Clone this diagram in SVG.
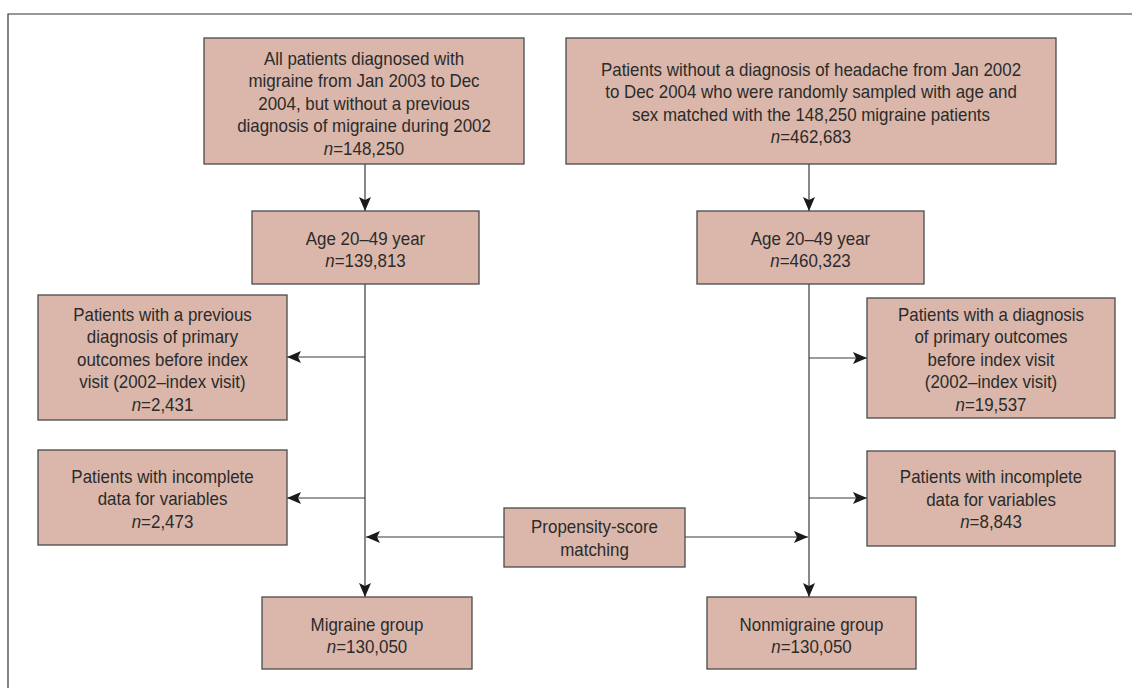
<svg xmlns="http://www.w3.org/2000/svg" width="1132" height="688" viewBox="0 0 1132 688">
<style>
.box{fill:#dab7aa;stroke:#4a4a4a;stroke-width:1.3}
.t{font-family:"Liberation Sans",Arial,sans-serif;font-size:18px;fill:#2b2b2b;text-anchor:middle}
.i{font-style:italic}
.c{stroke:#3a3a3a;stroke-width:1.2;fill:none}
.frame{stroke:#333;stroke-width:1.2;fill:none}
</style>
<defs>
<marker id="ah" viewBox="0 0 14 12" refX="14" refY="6" markerWidth="14" markerHeight="12" orient="auto" markerUnits="userSpaceOnUse">
<path d="M0,0 L14,6 L0,12 L3,6 z" fill="#1a1a1a"/>
</marker>
</defs>
<path class="frame" d="M8,688 V14 H1132"/>
<g id="connectors">
<line class="c" x1="365" y1="164" x2="365" y2="211" marker-end="url(#ah)"/>
<line class="c" x1="365" y1="284" x2="365" y2="597" marker-end="url(#ah)"/>
<line class="c" x1="365" y1="357" x2="287" y2="357" marker-end="url(#ah)"/>
<line class="c" x1="365" y1="498" x2="287" y2="498" marker-end="url(#ah)"/>
<line class="c" x1="504" y1="537" x2="366" y2="537" marker-end="url(#ah)"/>
<line class="c" x1="809" y1="164" x2="809" y2="211" marker-end="url(#ah)"/>
<line class="c" x1="809" y1="284" x2="809" y2="597" marker-end="url(#ah)"/>
<line class="c" x1="809" y1="358" x2="867" y2="358" marker-end="url(#ah)"/>
<line class="c" x1="809" y1="498" x2="867" y2="498" marker-end="url(#ah)"/>
<line class="c" x1="685" y1="537" x2="808" y2="537" marker-end="url(#ah)"/>
</g>
<g id="migraine-all">
<rect class="box" x="204" y="38" width="320" height="126"/>
<g transform="translate(364 0) scale(0.94 1)">
<text class="t" x="0" y="65">All patients diagnosed with</text>
<text class="t" x="0" y="87.5">migraine from Jan 2003 to Dec</text>
<text class="t" x="0" y="110">2004, but without a previous</text>
<text class="t" x="0" y="132.5">diagnosis of migraine during 2002</text>
<text class="t" x="0" y="155"><tspan class="i">n</tspan>=148,250</text>
</g>
</g>
<g id="control-all">
<rect class="box" x="566" y="38" width="490" height="126"/>
<g transform="translate(811 0) scale(0.94 1)">
<text class="t" x="0" y="76">Patients without a diagnosis of headache from Jan 2002</text>
<text class="t" x="0" y="98.5">to Dec 2004 who were randomly sampled with age and</text>
<text class="t" x="0" y="121">sex matched with the 148,250 migraine patients</text>
<text class="t" x="0" y="143.5"><tspan class="i">n</tspan>=462,683</text>
</g>
</g>
<g id="age-left">
<rect class="box" x="252" y="211" width="227" height="73"/>
<g transform="translate(365.5 0) scale(0.94 1)">
<text class="t" x="0" y="245">Age 20–49 year</text>
<text class="t" x="0" y="267"><tspan class="i">n</tspan>=139,813</text>
</g>
</g>
<g id="age-right">
<rect class="box" x="697" y="211" width="227" height="73"/>
<g transform="translate(810.5 0) scale(0.94 1)">
<text class="t" x="0" y="245">Age 20–49 year</text>
<text class="t" x="0" y="267"><tspan class="i">n</tspan>=460,323</text>
</g>
</g>
<g id="excl-left-1">
<rect class="box" x="38" y="295" width="249" height="125"/>
<g transform="translate(162.5 0) scale(0.94 1)">
<text class="t" x="0" y="321.5">Patients with a previous</text>
<text class="t" x="0" y="343.5">diagnosis of primary</text>
<text class="t" x="0" y="366">outcomes before index</text>
<text class="t" x="0" y="388.5">visit (2002–index visit)</text>
<text class="t" x="0" y="411"><tspan class="i">n</tspan>=2,431</text>
</g>
</g>
<g id="excl-left-2">
<rect class="box" x="38" y="450" width="249" height="95"/>
<g transform="translate(162.5 0) scale(0.94 1)">
<text class="t" x="0" y="483">Patients with incomplete</text>
<text class="t" x="0" y="505.5">data for variables</text>
<text class="t" x="0" y="528"><tspan class="i">n</tspan>=2,473</text>
</g>
</g>
<g id="excl-right-1">
<rect class="box" x="867" y="298" width="248" height="120"/>
<g transform="translate(991 0) scale(0.94 1)">
<text class="t" x="0" y="321">Patients with a diagnosis</text>
<text class="t" x="0" y="343.5">of primary outcomes</text>
<text class="t" x="0" y="366">before index visit</text>
<text class="t" x="0" y="388.5">(2002–index visit)</text>
<text class="t" x="0" y="411"><tspan class="i">n</tspan>=19,537</text>
</g>
</g>
<g id="excl-right-2">
<rect class="box" x="867" y="451" width="248" height="95"/>
<g transform="translate(991 0) scale(0.94 1)">
<text class="t" x="0" y="483.5">Patients with incomplete</text>
<text class="t" x="0" y="506">data for variables</text>
<text class="t" x="0" y="528.5"><tspan class="i">n</tspan>=8,843</text>
</g>
</g>
<g id="propensity">
<rect class="box" x="504" y="508" width="181" height="59"/>
<g transform="translate(594.5 0) scale(0.94 1)">
<text class="t" x="0" y="533.5">Propensity-score</text>
<text class="t" x="0" y="556">matching</text>
</g>
</g>
<g id="migraine-group">
<rect class="box" x="262" y="597" width="210" height="72"/>
<g transform="translate(367 0) scale(0.94 1)">
<text class="t" x="0" y="631">Migraine group</text>
<text class="t" x="0" y="653"><tspan class="i">n</tspan>=130,050</text>
</g>
</g>
<g id="nonmigraine-group">
<rect class="box" x="707" y="597" width="209" height="72"/>
<g transform="translate(811.5 0) scale(0.94 1)">
<text class="t" x="0" y="631">Nonmigraine group</text>
<text class="t" x="0" y="653"><tspan class="i">n</tspan>=130,050</text>
</g>
</g>
</svg>
